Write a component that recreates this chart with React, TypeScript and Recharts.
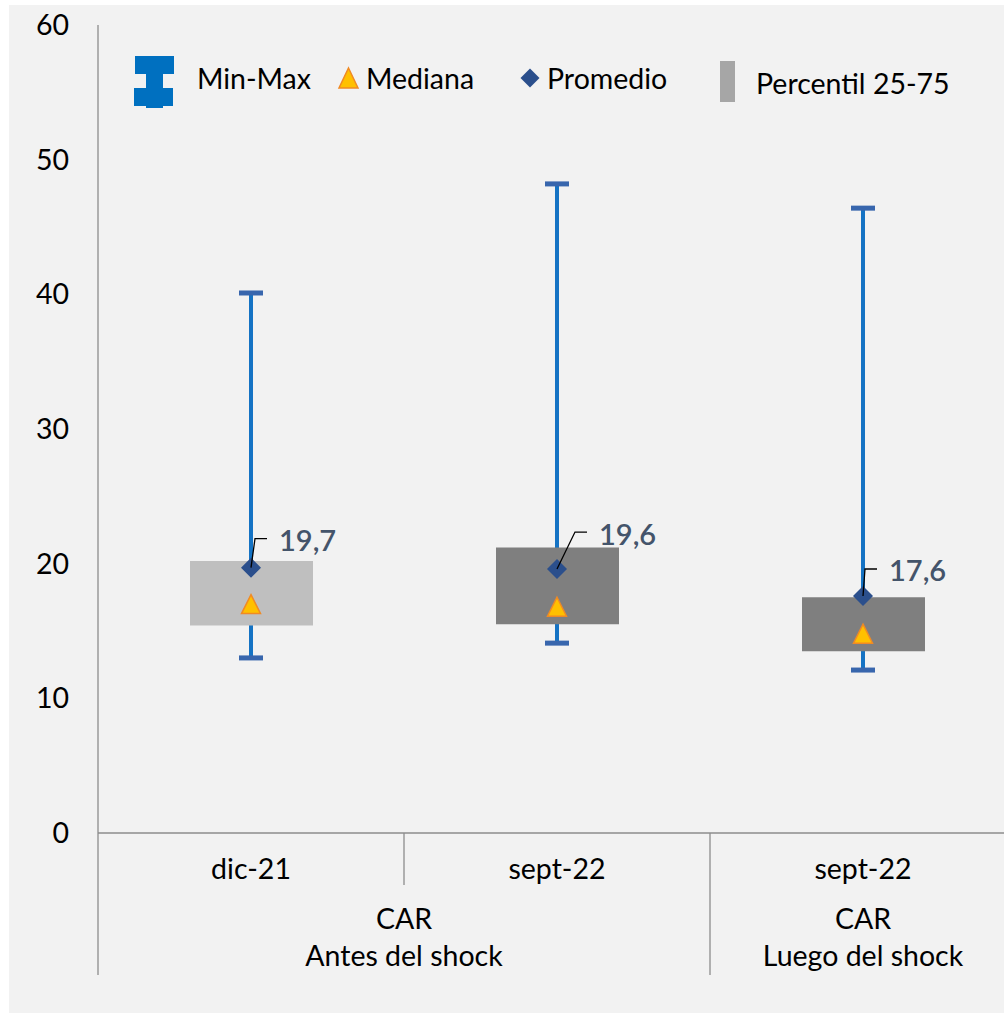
import React from "react";
import {
  ComposedChart,
  Bar,
  Line,
  XAxis,
  YAxis,
  Cell,
  LabelList,
} from "recharts";

// ── data ──────────────────────────────────────────────────────────────────────

const PERIODS = ["dic-21", "sept-22", "sept-22"];
const GROUPS = [
  { title: "CAR", sub: "Antes del shock", span: 2 },
  { title: "CAR", sub: "Luego del shock", span: 1 },
];
const MIN_VALUES = [13.0, 14.1, 12.1];
const MAX_VALUES = [40.1, 48.2, 46.4];
const P25_VALUES = [15.4, 15.5, 13.5];
const P75_VALUES = [20.2, 21.2, 17.5];
const MEDIAN_VALUES = [17.0, 16.8, 14.8];
const MEAN_VALUES = [19.7, 19.6, 17.6];
const Y_TICKS = [0, 10, 20, 30, 40, 50, 60];

const BOX_COLORS = ["#bfbfbf", "#7f7f7f", "#7f7f7f"];

const rows = PERIODS.map((p, i) => ({
  idx: i,
  period: p,
  range: [MIN_VALUES[i], MAX_VALUES[i]],
  box: [P25_VALUES[i], P75_VALUES[i]],
  median: MEDIAN_VALUES[i],
  mean: MEAN_VALUES[i],
}));

// ── layout ────────────────────────────────────────────────────────────────────

const FONT = "Lato, 'Open Sans', sans-serif";
const FS = 28.5;
const CHART_W = 1007;
const CHART_H = 1008;
const Y_AXIS_W = 89;
const X_AXIS_H = 180;
const BAND = (CHART_W - Y_AXIS_W) / PERIODS.length;
const AXIS_COLOR = "#8c8c8c";

// leader line elbow (dx, dy) for each mean label
const LEADERS = [
  [4, 29],
  [18, 37],
  [2, 27],
];

const groupStart = (i: number) => {
  let k = 0;
  for (const g of GROUPS) {
    if (k === i) return g;
    k += g.span;
  }
  return null;
};

function XTick(props: any) {
  const { x, y, payload } = props;
  const i = payload.index;
  const g = groupStart(i);
  const left = x - BAND / 2;
  return (
    <g>
      <line
        x1={left}
        x2={left}
        y1={y}
        y2={y + (g ? 142 : 52)}
        stroke={AXIS_COLOR}
        strokeWidth={1.3}
      />
      <text x={x} y={y + 35} textAnchor="middle" dominantBaseline="central" fontSize={FS} fill="#000" fontFamily={FONT}>
        {PERIODS[i]}
      </text>
      {g && (
        <>
          <text
            x={x + ((g.span - 1) * BAND) / 2}
            y={y + 85}
            textAnchor="middle"
            dominantBaseline="central"
            fontSize={FS}
            fill="#000"
            fontFamily={FONT}
          >
            {g.title}
          </text>
          <text
            x={x + ((g.span - 1) * BAND) / 2}
            y={y + 122}
            textAnchor="middle"
            dominantBaseline="central"
            fontSize={FS}
            fill="#000"
            fontFamily={FONT}
          >
            {g.sub}
          </text>
        </>
      )}
    </g>
  );
}

function Whisker(props: any) {
  const { x, y, width, height } = props;
  const cx = x + width / 2;
  return (
    <g>
      <line x1={cx} x2={cx} y1={y} y2={y + height} stroke="#1573c4" strokeWidth={4} />
      <rect x={cx - 12} y={y - 2.5} width={24} height={5} fill="#3866ad" />
      <rect x={cx - 12} y={y + height - 2.5} width={24} height={5} fill="#3866ad" />
    </g>
  );
}

function Diamond(props: any) {
  const { cx, cy, index } = props;
  const r = 10;
  return (
    <path
      key={`d${index}`}
      d={`M${cx},${cy - r}L${cx + r},${cy}L${cx},${cy + r}L${cx - r},${cy}Z`}
      fill="#2b4f8c"
    />
  );
}

function Triangle(props: any) {
  const { cx, cy, index } = props;
  const h = 9.5;
  return (
    <path
      key={`t${index}`}
      d={`M${cx},${cy - h}L${cx + h},${cy + h}L${cx - h},${cy + h}Z`}
      fill="#ffc000"
      stroke="#f08a24"
      strokeWidth={1.5}
    />
  );
}

function MeanLabel(props: any) {
  const { x, y, value, index } = props;
  const [dx, dy] = LEADERS[index] ?? [4, 30];
  const ex = x + dx;
  const ey = y - dy;
  return (
    <g>
      <path d={`M${x},${y}L${ex},${ey}L${ex + 12},${ey}`} fill="none" stroke="#000" strokeWidth={1.3} />
      <text
        x={ex + 24}
        y={ey + 1}
        dominantBaseline="central"
        fontSize={29}
        fontWeight={600}
        fill="#44546a"
        fontFamily={FONT}
      >
        {Number(value).toFixed(1).replace(".", ",")}
      </text>
    </g>
  );
}

function LegendBox() {
  const text = { fontSize: FS, fill: "#000", fontFamily: FONT, dominantBaseline: "central" as const };
  return (
    <svg
      width={995}
      height={130}
      style={{ position: "absolute", left: 0, top: 0, pointerEvents: "none" }}
    >
      <g transform="translate(-9,-5)">
        <g fill="#0070c0">
          <rect x={135} y={56} width={39} height={18} />
          <rect x={146} y={74} width={17} height={14} />
          <rect x={134} y={88} width={39} height={18} />
          <rect x={146} y={106} width={17} height={2} />
        </g>
        <text x={197} y={78} {...text}>Min-Max</text>
        <path d="M348.5,68L358,88L339,88Z" fill="#ffc000" stroke="#f08a24" strokeWidth={1.5} />
        <text x={366} y={78} {...text}>Mediana</text>
        <path d="M530,68.5L539.5,78L530,87.5L520.5,78Z" fill="#2b4f8c" />
        <text x={547} y={78} {...text}>Promedio</text>
        <rect x={720} y={61} width={15} height={41} fill="#a6a6a6" />
        <text x={756} y={83} {...text}>Percentil 25-75</text>
      </g>
    </svg>
  );
}

export default function App() {
  return (
    <div
      style={{
        position: "absolute",
        left: 9,
        top: 5,
        width: 995,
        height: CHART_H,
        background: "#f2f2f2",
        overflow: "hidden",
      }}
    >
      <ComposedChart
        width={CHART_W}
        height={CHART_H}
        data={rows}
        margin={{ top: 20, right: 0, left: 0, bottom: 0 }}
      >
        <XAxis
          dataKey="idx"
          type="category"
          height={X_AXIS_H}
          axisLine={{ stroke: AXIS_COLOR, strokeWidth: 1.3 }}
          tickLine={false}
          tickSize={0}
          tickMargin={0}
          tick={<XTick />}
          interval={0}
        />
        <XAxis xAxisId="w" dataKey="idx" type="category" hide />
        <YAxis
          width={Y_AXIS_W}
          domain={[0, 60]}
          ticks={Y_TICKS}
          interval={0}
          axisLine={{ stroke: AXIS_COLOR, strokeWidth: 1.3 }}
          tickLine={false}
          tickSize={0}
          tickMargin={29}
          tick={{ fontSize: FS, fill: "#000", fontFamily: FONT }}
        />
        <Bar
          xAxisId="w"
          dataKey="range"
          barSize={24}
          shape={<Whisker />}
          isAnimationActive={false}
        />
        <Bar dataKey="box" barSize={123} isAnimationActive={false}>
          {rows.map((_, i) => (
            <Cell key={i} fill={BOX_COLORS[i]} />
          ))}
        </Bar>
        <Line
          dataKey="median"
          stroke="none"
          dot={<Triangle />}
          activeDot={false}
          isAnimationActive={false}
        />
        <Line
          dataKey="mean"
          stroke="none"
          dot={<Diamond />}
          activeDot={false}
          isAnimationActive={false}
        >
          <LabelList dataKey="mean" content={<MeanLabel />} />
        </Line>
      </ComposedChart>
      <LegendBox />
    </div>
  );
}
